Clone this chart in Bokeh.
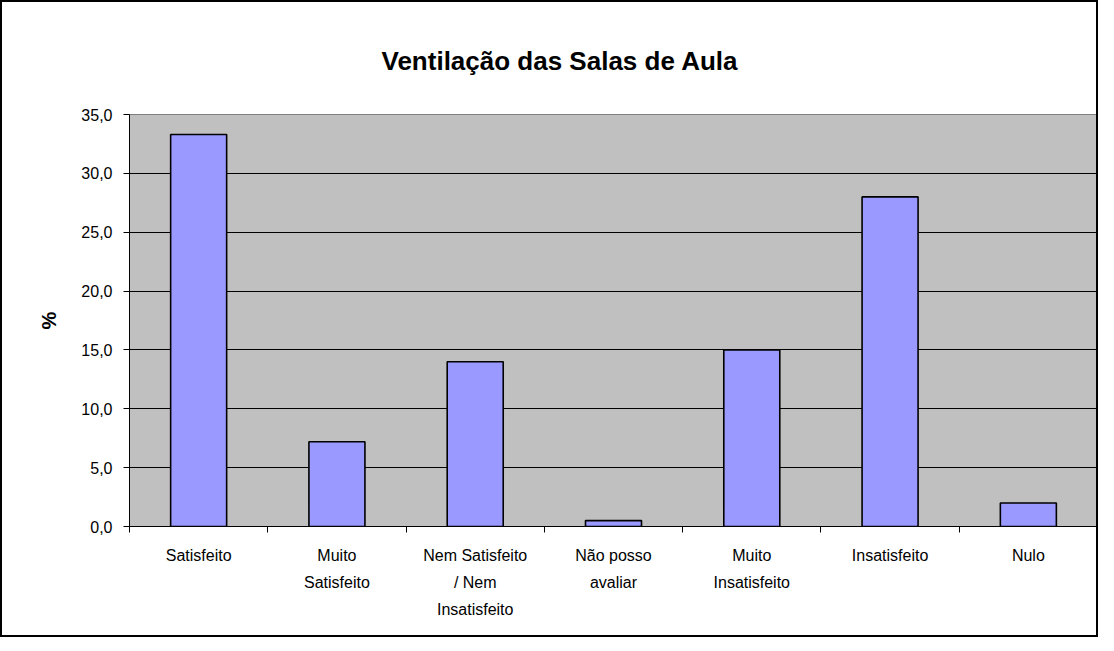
from bokeh.plotting import figure
from bokeh.models import Range1d, FixedTicker, CustomJSTickFormatter, ColumnDataSource
from bokeh.embed import file_html
from bokeh.resources import INLINE

categories = ["Satisfeito", "Muito\nSatisfeito", "Nem Satisfeito\n/ Nem\nInsatisfeito",
              "Não posso\navaliar", "Muito\nInsatisfeito", "Insatisfeito", "Nulo"]
values = [33.3, 7.2, 14.0, 0.5, 15.0, 28.0, 2.0]
title_text = "Ventilação das Salas de Aula"
y_label = "%"
y_ticks = [0, 5, 10, 15, 20, 25, 30, 35]

FONT = "Liberation Sans"

n = len(categories)
xs = [i + 0.5 for i in range(n)]
src = ColumnDataSource(dict(x=xs, top=values))

p = figure(width=1098, height=637, output_backend="svg", toolbar_location=None,
           x_range=Range1d(0, n), y_range=Range1d(0, 35),
           min_border_left=127, min_border_right=3, min_border_top=112, min_border_bottom=113)
p.styles = {"border": "2px solid black"}
p.background_fill_color = "#C0C0C0"
p.border_fill_color = "white"
p.outline_line_color = "#808080"
p.outline_line_width = 1

p.title.text = title_text
p.title.text_font = FONT
p.title.text_font_size = "26px"
p.title.text_font_style = "bold"
p.title.text_color = "black"
p.title.align = "left"
p.title.offset = 252
p.title.standoff = 78

p.vbar(x="x", top="top", bottom=0, width=0.405, source=src,
       fill_color="#9999FF", line_color="black", line_width=1.6)

# grid
p.xgrid.visible = False
p.ygrid.grid_line_color = "black"
p.ygrid.grid_line_width = 1

# y axis
p.yaxis.ticker = FixedTicker(ticks=y_ticks)
p.yaxis.formatter = CustomJSTickFormatter(code="return tick.toFixed(1).replace('.', ',');")
p.yaxis.minor_tick_line_color = None
p.yaxis.major_tick_out = 6
p.yaxis.major_tick_in = 0
p.yaxis.axis_line_color = "black"
p.yaxis.major_tick_line_color = "black"
p.yaxis.major_label_text_font = FONT
p.yaxis.major_label_text_font_size = "16px"
p.yaxis.major_label_text_color = "black"
p.yaxis.major_label_standoff = 11
p.yaxis.axis_label = y_label
p.yaxis.axis_label_text_font = FONT
p.yaxis.axis_label_text_font_size = "20px"
p.yaxis.axis_label_text_font_style = "bold"
p.yaxis.axis_label_text_color = "black"
p.yaxis.axis_label_standoff = 18

# x axis: labels at centres, ticks at category boundaries
xaxis = p.below[0]
xaxis.ticker = FixedTicker(ticks=xs, minor_ticks=list(range(n + 1)))
xaxis.major_label_overrides = {x: c for x, c in zip(xs, categories)}
xaxis.major_tick_out = 0
xaxis.major_tick_in = 0
xaxis.minor_tick_out = 6
xaxis.minor_tick_in = 0
xaxis.minor_tick_line_color = "black"
xaxis.axis_line_color = "black"
xaxis.major_label_text_font = FONT
xaxis.major_label_text_font_size = "16px"
xaxis.major_label_text_color = "black"
xaxis.major_label_text_line_height = 1.6
xaxis.major_label_standoff = 14
xaxis.major_label_orientation = "horizontal"

open("out.html", "w").write(file_html(p, INLINE))
